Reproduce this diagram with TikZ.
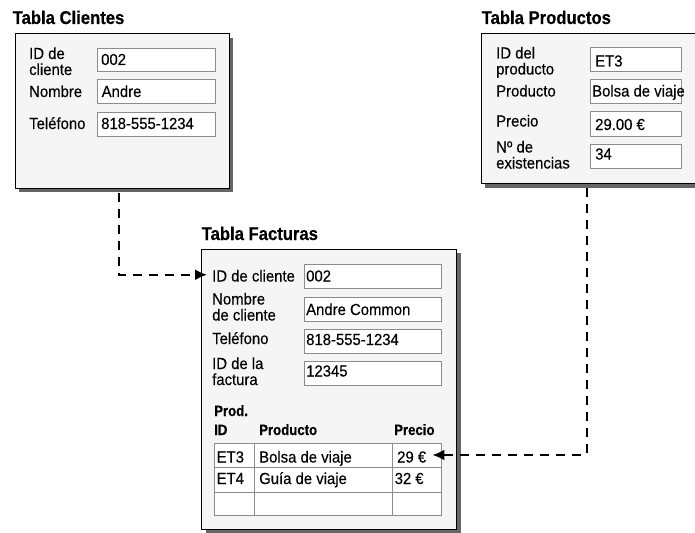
\documentclass[tikz,border=0pt]{standalone}
\usepackage{fontspec}
\setmainfont{Liberation Sans}
\newfontfamily\bodyfam[FakeStretch=0.93,FakeBold=0.25]{Liberation Sans}
\newfontfamily\titlefam[FakeStretch=0.9,FakeBold=0.4]{Liberation Sans}
\newfontfamily\colfam[FakeStretch=0.88,FakeBold=0.3]{Liberation Sans}
\usetikzlibrary{arrows.meta,calc}

\definecolor{panelfill}{HTML}{F5F5F5}
\definecolor{shadowgray}{HTML}{666666}
\definecolor{fieldgray}{HTML}{8C8C8C}
\definecolor{gridgray}{HTML}{8C8C8C}

\newcommand\bodyfont{\bodyfam\fontsize{16}{16}\selectfont}
\newcommand\headfont{\titlefam\fontsize{18.5}{18.5}\selectfont\bfseries}
\newcommand\colfont{\colfam\fontsize{15}{15}\selectfont\bfseries}

\begin{document}
\begin{tikzpicture}[x=1pt,y=-1pt,
  panel/.style={draw=black, line width=1pt, fill=panelfill, anchor=north west,
                inner sep=0pt, outer sep=0pt},
  shade/.style={fill=shadowgray},
  field/.style={draw=fieldgray, line width=1pt, fill=white},
  txt/.style={anchor=base west, inner sep=0pt, font=\bodyfont},
  ttl/.style={anchor=base west, inner sep=0pt, font=\headfont},
  colhead/.style={anchor=base west, inner sep=0pt, font=\colfont},
  gridline/.style={draw=gridgray, line width=1pt},
  link/.style={line width=2.2pt, dash pattern=on 9pt off 7pt,
               -{Latex[length=12pt,width=11pt]}}
]
\useasboundingbox (0,0) rectangle (695,532);
\clip (0,0) rectangle (695,532);

% ---------- Tabla Clientes ----------
\node[ttl] (cl-title) at (12.5,24) {Tabla Clientes};
\fill[shade] (19,38.3) rectangle (233.3,192.3);
\node[panel, minimum width=214.3pt, minimum height=154.3pt] (clientes) at (15,34) {};
\draw[field] (97.3,48.3) rectangle (215.3,71.7);
\draw[field] (97.3,80) rectangle (215.3,104);
\draw[field] (97.3,112.3) rectangle (215.3,136);
\node[txt] (cl-id-a) at (29,59) {ID de};
\node[txt] (cl-id-b) at (29,75) {cliente};
\node[txt] (cl-nom) at (29,97) {Nombre};
\node[txt] (cl-tel) at (29,129) {Teléfono};
\node[txt] (cl-v1) at (101,65) {002};
\node[txt] (cl-v2) at (101.5,97) {Andre};
\node[txt] (cl-v3) at (101,129) {818-555-1234};

% ---------- Tabla Productos ----------
\node[ttl] (pr-title) at (481.5,24) {Tabla Productos};
\fill[shade] (485,37.5) rectangle (706,188.3);
\node[panel, minimum width=222pt, minimum height=149.8pt] (productos) at (481,33.5) {};
\draw[field] (590.7,47.3) rectangle (681.7,71.7);
\draw[field] (590.7,79.3) rectangle (681.7,104);
\draw[field] (590.7,111.7) rectangle (681.7,136);
\draw[field] (590.7,144) rectangle (681.7,168.7);
\node[txt] (pr-id-a) at (496,58.5) {ID del};
\node[txt] (pr-id-b) at (496,74.5) {producto};
\node[txt] (pr-prod) at (496,96.5) {Producto};
\node[txt] (pr-prec) at (496,126.5) {Precio};
\node[txt] (pr-ex-a) at (496,152.5) {Nº de};
\node[txt] (pr-ex-b) at (496,168.5) {existencias};
\node[txt] (pr-v1) at (595,66.5) {ET3};
\node[txt] (pr-v2) at (592,96.5) {Bolsa de viaje};
\node[txt] (pr-v3) at (595,130) {29.00 €};
\node[txt] (pr-v4) at (595,159.5) {34};

% ---------- Tabla Facturas ----------
\node[ttl] (fa-title) at (201.5,240) {Tabla Facturas};
\fill[shade] (205.7,253.3) rectangle (460.7,534);
\node[panel, minimum width=255pt, minimum height=280.2pt] (facturas) at (201.7,249.3) {};
\draw[field] (304.3,264) rectangle (441,288);
\draw[field] (304.3,297) rectangle (441,321);
\draw[field] (304.3,329.3) rectangle (441,353);
\draw[field] (304.3,361) rectangle (441,385);
\node[txt] (fa-id) at (212,281.5) {ID de cliente};
\node[txt] (fa-nom-a) at (212,304.5) {Nombre};
\node[txt] (fa-nom-b) at (212,320.5) {de cliente};
\node[txt] (fa-tel) at (212,344) {Teléfono};
\node[txt] (fa-fac-a) at (212,369) {ID de la};
\node[txt] (fa-fac-b) at (212,385) {factura};
\node[txt] (fa-v1) at (306,281.5) {002};
\node[txt] (fa-v2) at (306,315) {Andre Common};
\node[txt] (fa-v3) at (306,345) {818-555-1234};
\node[txt] (fa-v4) at (306,376.5) {12345};

% line items of the invoice
\node[colhead] (fr-h0) at (214,416) {Prod.};
\node[colhead] (fr-h1) at (214,435) {ID};
\node[colhead] (fr-h2) at (259,435) {Producto};
\node[colhead] (fr-h3) at (394,435) {Precio};
\filldraw[gridline, fill=white] (214,443.3) rectangle (441.7,515);
\draw[gridline] (214,467.7) -- (441.7,467.7) (214,492) -- (441.7,492);
\draw[gridline, line width=1.4pt] (254.3,443.3) -- (254.3,515) (392.7,443.3) -- (392.7,515);
\node[txt] (fr-i1) at (216.5,462.5) {ET3};
\node[txt] (fr-n1) at (259,462.5) {Bolsa de viaje};
\node[txt] (fr-p1) at (397,462.5) {29 €};
\node[txt] (fr-i2) at (216.5,484) {ET4};
\node[txt] (fr-n2) at (259,484) {Guía de viaje};
\node[txt] (fr-p2) at (394.5,484) {32 €};

% ---------- connectors ----------
\draw[link] ([xshift=104pt,yshift=-4.5pt]clientes.south west)
  |- ([xshift=-5pt,yshift=1pt]fa-id.west);
\draw[link] ([xshift=105.7pt,yshift=-5pt]productos.south west)
  |- ([xshift=6pt,yshift=2pt]fr-p1.east);
\end{tikzpicture}
\end{document}
